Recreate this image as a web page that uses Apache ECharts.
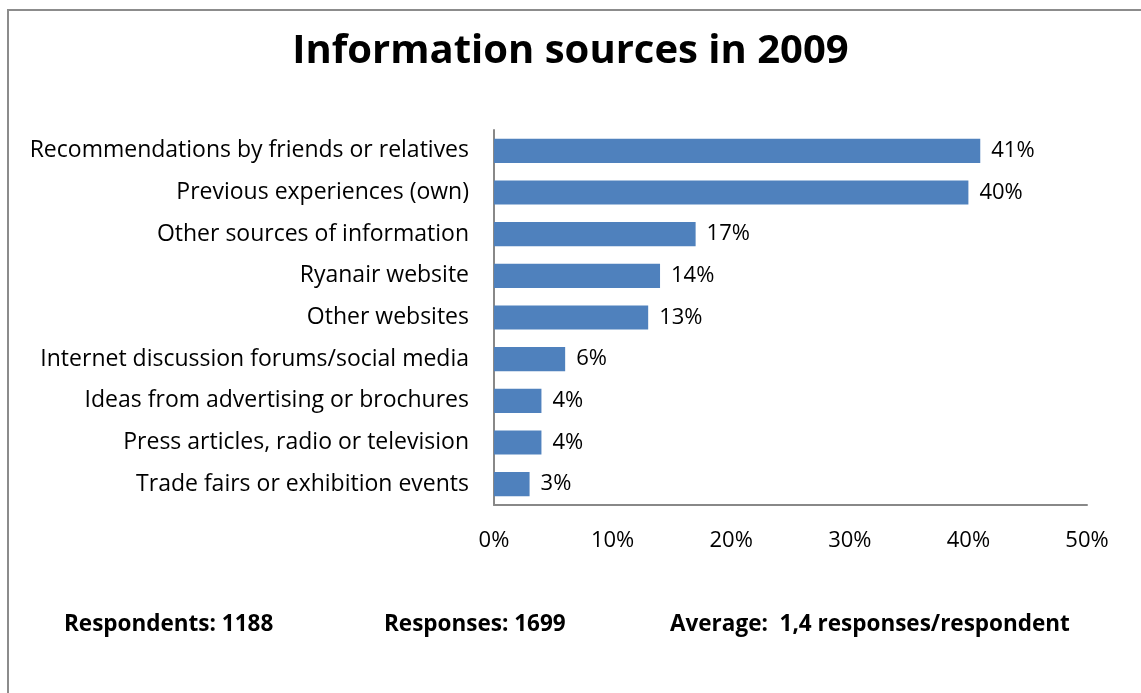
<!DOCTYPE html>
<html>
<head>
<meta charset="utf-8">
<script src="https://cdn.jsdelivr.net/npm/echarts@6/dist/echarts.min.js"></script>
<style>
  html, body { margin: 0; padding: 0; background: #fff; }
  #chart { width: 1141px; height: 693px; }
</style>
</head>
<body>
<div id="chart"></div>
<script>
// Information sources, share of respondents (%), listed top to bottom
const categories = [
  'Recommendations by friends or relatives',
  'Previous experiences (own)',
  'Other sources of information',
  'Ryanair website',
  'Other websites',
  'Internet discussion forums/social media',
  'Ideas from advertising or brochures',
  'Press articles, radio or television',
  'Trade fairs or exhibition events'
];
const shares = [41, 40, 17, 14, 13, 6, 4, 4, 3];
const axisTicks = [0, 10, 20, 30, 40, 50];
const footerTexts = ['Respondents: 1188', 'Responses: 1699', 'Average:  1,4 responses/respondent'];

const FONT = '"Open Sans", sans-serif';
const chart = echarts.init(document.getElementById('chart'), null, { renderer: 'canvas' });

chart.setOption({
  backgroundColor: '#ffffff',
  animation: false,
  title: {
    text: 'Information sources in 2009',
    left: 'center',
    top: 27,
    textStyle: { fontFamily: FONT, fontSize: 40, fontWeight: 'bold', color: '#000' }
  },
  grid: { left: 494, right: 54, top: 130, bottom: 188, containLabel: false },
  xAxis: {
    type: 'value',
    min: axisTicks[0],
    max: axisTicks[axisTicks.length - 1],
    interval: axisTicks[1] - axisTicks[0],
    axisLine: { show: true, lineStyle: { color: '#888', width: 2 } },
    axisTick: { show: false },
    splitLine: { show: false },
    axisLabel: { formatter: '{value}%', margin: 25, fontFamily: FONT, fontSize: 22, color: '#000' }
  },
  yAxis: {
    type: 'category',
    inverse: true,
    data: categories,
    axisLine: { show: true, lineStyle: { color: '#888', width: 2 } },
    axisTick: { show: false },
    axisLabel: { margin: 25, padding: [4, 0, 0, 0], fontFamily: FONT, fontSize: 23, color: '#000' }
  },
  series: [{
    type: 'bar',
    data: shares,
    barCategoryGap: '42%',
    itemStyle: { color: '#4F81BD' },
    label: {
      show: true,
      position: 'right',
      distance: 11,
      padding: [3, 0, 0, 0],
      formatter: '{c}%',
      fontFamily: FONT,
      fontSize: 22,
      color: '#000'
    }
  }],
  graphic: [
    {
      type: 'rect',
      shape: { x: 8, y: 10, width: 1200, height: 800 },
      style: { fill: null, stroke: '#8c8c8c', lineWidth: 2 },
      silent: true
    },
    {
      type: 'text', left: 64, top: 613,
      style: { text: footerTexts[0], font: 'bold 22.5px ' + FONT, fill: '#000' }
    },
    {
      type: 'text', left: 384, top: 613,
      style: { text: footerTexts[1], font: 'bold 22.5px ' + FONT, fill: '#000' }
    },
    {
      type: 'text', left: 670, top: 613,
      style: { text: footerTexts[2], font: 'bold 22.5px ' + FONT, fill: '#000' }
    }
  ]
});
</script>
</body>
</html>
